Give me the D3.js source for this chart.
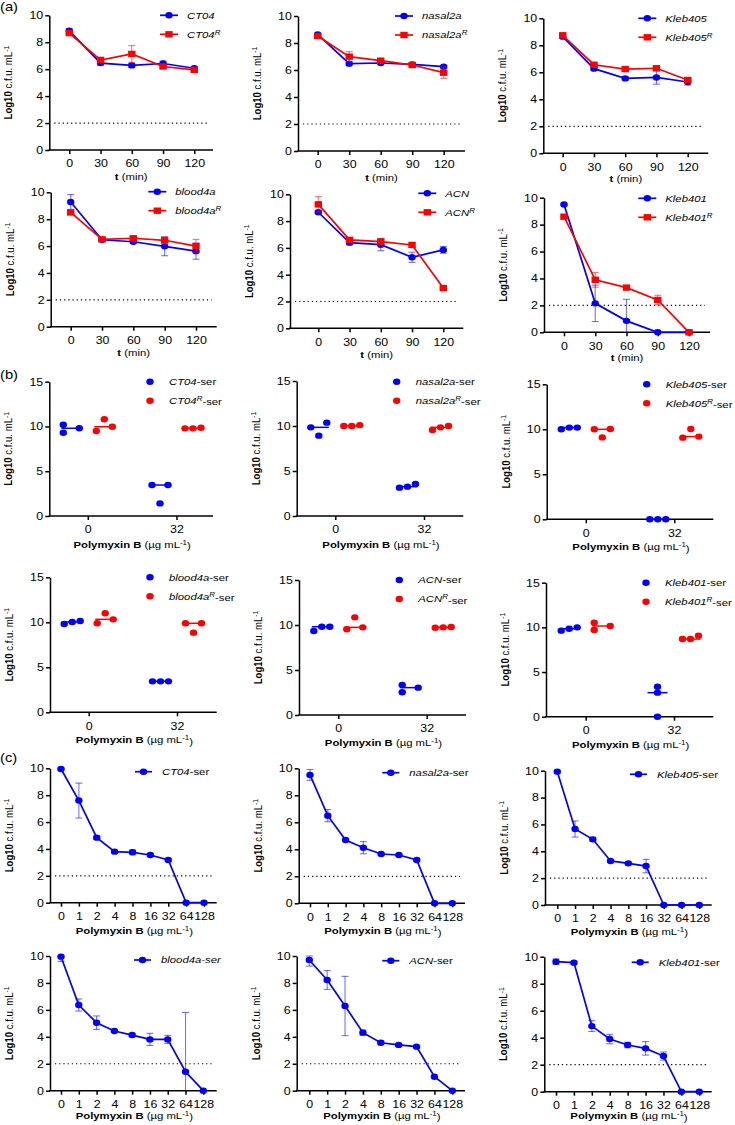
<!DOCTYPE html>
<html>
<head>
<meta charset="utf-8">
<script src="https://cdn.jsdelivr.net/npm/d3@7"></script>
<style>
  body { margin: 0; background: #fff; }
  svg text { font-family: "Liberation Sans", Arial, Helvetica, sans-serif; fill: #000; }
</style>
</head>
<body>
<svg id="fig" width="735" height="1125"></svg>
<script>
// ---- data ----
const strains = ['CT04', 'nasal2a', 'Kleb405', 'blood4a', 'ACN', 'Kleb401'];

// (a) time-kill, log10 cfu/mL
const timePoints = [0, 30, 60, 90, 120];
const killWT = [
  [8.85, 6.45, 6.28, 6.42, 6.07],
  [8.64, 6.47, 6.52, 6.42, 6.25],
  [8.64, 6.27, 5.55, 5.62, 5.28],
  [9.28, 6.47, 6.32, 5.98, 5.62],
  [8.66, 6.39, 6.24, 5.30, 5.85],
  [9.50, 2.15, 0.85, 0, 0]
];
const killWTsd = [
  [0.15, 0.15, 0.15, 0.18, 0.12],
  [0.08, 0.10, 0.12, 0.10, 0.08],
  [0.10, 0.12, 0.12, 0.50, 0.22],
  [0.55, 0.10, 0.10, 0.70, 0.60],
  [0.12, 0.15, 0.45, 0.38, 0.25],
  [0.08, 1.35, 1.60, 0, 0]
];
const killR = [
  [8.68, 6.68, 7.13, 6.20, 5.95],
  [8.52, 6.99, 6.69, 6.37, 5.80],
  [8.74, 6.56, 6.24, 6.30, 5.43],
  [8.50, 6.50, 6.58, 6.43, 6.00],
  [9.25, 6.60, 6.47, 6.22, 3.00],
  [8.59, 3.90, 3.32, 2.40, 0]
];
const killRsd = [
  [0.12, 0.20, 0.62, 0.10, 0.10],
  [0.10, 0.37, 0.12, 0.10, 0.42],
  [0.15, 0.10, 0.12, 0.12, 0.10],
  [0.10, 0.12, 0.12, 0.25, 0.50],
  [0.57, 0.12, 0.20, 0.18, 0.05],
  [0.10, 0.55, 0.10, 0.35, 0]
];

// (b) serum survival, three replicates per group
const serumDoses = ['0', '32'];
const serumWT0 = [[10.2, 9.3, 9.8], [10.37, 8.93, 9.85], [10.0, 10.19, 10.19], [9.81, 10.15, 10.04], [9.33, 9.81, 9.81], [9.63, 10.0, 9.85]];
const serumR0 = [[9.5, 10.8, 9.97], [10.0, 10.1, 10.0], [10.04, 9.1, 10.0], [9.89, 11.0, 10.33], [9.52, 10.85, 9.74], [10.52, 9.7, 10.15]];
const serumWT32 = [[3.46, 1.41, 3.46], [3.15, 3.56, 3.26], [0, 0, 0], [3.44, 3.44, 3.44], [3.33, 2.52, 3.04], [3.36, 2.69, 0]];
const serumR32 = [[9.79, 9.86, 9.79], [9.56, 10.0, 9.85], [9.07, 10.04, 9.19], [9.89, 8.85, 9.89], [9.7, 9.78, 9.74], [8.69, 9.07, 8.69]];

// (c) polymyxin B dose response in serum
const pmbDoses = ['0', '1', '2', '4', '8', '16', '32', '64', '128'];
const doseMean = [
  [9.95, 7.60, 4.84, 3.80, 3.75, 3.55, 3.18, 0, 0],
  [9.51, 6.49, 4.69, 4.12, 3.65, 3.58, 3.21, 0, 0],
  [9.93, 5.66, 4.89, 3.28, 3.10, 2.90, 0, 0, 0],
  [9.95, 6.36, 5.05, 4.43, 4.13, 3.81, 3.81, 1.41, 0],
  [9.70, 8.22, 6.29, 4.31, 3.56, 3.40, 3.27, 1.04, 0],
  [9.63, 9.56, 4.86, 3.90, 3.46, 3.21, 2.64, 0, 0]
];
const doseSd = [
  [0.08, 1.30, 0.12, 0.10, 0.18, 0.10, 0.10, 0, 0],
  [0.40, 0.45, 0.08, 0.45, 0.10, 0.08, 0.08, 0, 0],
  [0.05, 0.60, 0.15, 0.08, 0.10, 0.50, 0, 0, 0],
  [0.35, 0.45, 0.50, 0.08, 0.12, 0.45, 0.30, 4.40, 0],
  [0.45, 0.70, 2.20, 0.20, 0.15, 0.08, 0.08, 0.05, 0],
  [0.20, 0.10, 0.40, 0.35, 0.20, 0.50, 0.30, 0, 0]
];

const yTicksA = [0, 2, 4, 6, 8, 10];
const yTicksB = [0, 5, 10, 15];
const detectionLimit = 2;

// ---- layout (pixel frames measured per panel) ----
// x0/x1: x axis ends, f/l: first/last category, yT/yB: top tick / zero,
// lx/ly: legend, xt: gap from axis to x title baseline
const framesA = [
  {x0: 49.3, x1: 213, f: 69.3, l: 194.3, yT: 15.3, yB: 150, lx: 160, ly: 15.3, xt: 30},
  {x0: 298, x1: 465, f: 317.7, l: 443.7, yT: 16, yB: 151, lx: 395, ly: 16, xt: 30},
  {x0: 543.3, x1: 708.3, f: 562.7, l: 687.7, yT: 18.3, yB: 153.3, lx: 638.3, ly: 18.3, xt: 29},
  {x0: 50.7, x1: 216.7, f: 70.7, l: 196, yT: 192.3, yB: 326.7, lx: 148.3, ly: 191.7, xt: 29.5},
  {x0: 290, x1: 463.3, f: 318.3, l: 443.3, yT: 194.3, yB: 328.3, lx: 418.3, ly: 193.3, xt: 29.5},
  {x0: 544, x1: 710, f: 564, l: 689, yT: 197.7, yB: 332.3, lx: 638.3, ly: 198.3, xt: 29}
];
const framesB = [
  {x0: 49.3, x1: 213, f: 87.8, l: 176.5, yT: 381.7, yB: 516, lx: 150, ly: 381.7, xt: 32},
  {x0: 296.7, x1: 463.3, f: 335.3, l: 424, yT: 381, yB: 516, lx: 396.7, ly: 381.7, xt: 32},
  {x0: 546.7, x1: 713.3, f: 585.8, l: 674.3, yT: 384.3, yB: 519.3, lx: 646.7, ly: 384.3, xt: 31},
  {x0: 50, x1: 216.7, f: 88.7, l: 177, yT: 577.3, yB: 712.3, lx: 150, ly: 577.3, xt: 31},
  {x0: 299, x1: 466, f: 338.3, l: 426.7, yT: 580, yB: 715, lx: 399.3, ly: 580, xt: 31},
  {x0: 546, x1: 713.3, f: 585.7, l: 674, yT: 582.7, yB: 716.7, lx: 646, ly: 582.7, xt: 31}
];
const framesC = [
  {x0: 50, x1: 216.7, f: 61, l: 204, yT: 768.3, yB: 902.7, lx: 135, ly: 771.7, xt: 31},
  {x0: 298.7, x1: 465, f: 310, l: 452.3, yT: 768.3, yB: 903.3, lx: 382.3, ly: 772.7, xt: 31},
  {x0: 545, x1: 711.7, f: 557.3, l: 699.3, yT: 770.7, yB: 905, lx: 630, ly: 774.3, xt: 30},
  {x0: 50, x1: 216.7, f: 61, l: 203.3, yT: 956, yB: 1090.7, lx: 134, ly: 960, xt: 28.3},
  {x0: 296.7, x1: 465, f: 309.3, l: 452.3, yT: 956, yB: 1090.7, lx: 382.3, ly: 960.7, xt: 28.3},
  {x0: 544.3, x1: 711.7, f: 556, l: 699.3, yT: 956.7, yB: 1091.7, lx: 631.7, ly: 962.3, xt: 27.5}
];

const SX = 1.18;          // the figure is stretched horizontally
const BLUE = '#0000ff';
const RED = '#ff0000';
const TICK_FS = 10.5;
const TITLE_FS = 9.6;
const LEG_FS = 9.6;

const svg = d3.select('#fig');

function txt(g, x, y, size, rot) {
  return g.append('text')
    .attr('transform', `translate(${x},${y}) scale(${SX},1)` + (rot ? ` rotate(${rot})` : ''))
    .style('font-size', size + 'px');
}
function sup(t, s, after) {
  t.append('tspan').attr('dy', '-0.45em').style('font-size', '70%').text(s);
  if (after) t.append('tspan').attr('dy', '0.45em').text(after);
}

function axes(g, fr, x, y, yTicks) {
  const ya = g.append('g').attr('transform', `translate(${fr.x0},0)`)
    .call(d3.axisLeft(y).tickValues(yTicks).tickSize(4).tickPadding(1.2).tickSizeOuter(0));
  const xAxis = d3.axisBottom(x).tickSize(4).tickPadding(6).tickSizeOuter(0);
  if (x.ticks) xAxis.tickValues(timePoints);
  const xa = g.append('g').attr('transform', `translate(0,${fr.yB})`).call(xAxis);
  xa.select('.domain').remove();
  xa.append('line').attr('x1', fr.x0 - 0.75).attr('x2', fr.x1).attr('stroke', '#000');
  [ya, xa].forEach(a => {
    a.attr('font-family', null).attr('font-size', null);
    a.selectAll('line, path').attr('stroke', '#000').attr('stroke-width', 1.5);
    a.selectAll('text').style('font-size', TICK_FS + 'px').attr('transform', `scale(${SX},1)`);
  });
  // y title
  const t = txt(g, fr.x0 - 37, (fr.yT + fr.yB) / 2, TITLE_FS, -90).attr('text-anchor', 'middle');
  t.append('tspan').style('font-weight', 'bold').text('Log10');
  t.append('tspan').text(' c.f.u. mL');
  sup(t, '-1');
}

function xTitlePmb(g, fr) {
  const t = txt(g, (fr.x0 + fr.x1) / 2 + 1, fr.yB + fr.xt, TITLE_FS).attr('text-anchor', 'middle');
  t.append('tspan').style('font-weight', 'bold').text('Polymyxin B');
  t.append('tspan').text(' (\u00b5g mL');
  sup(t, '-1', ')');
}

function limitLine(g, fr, y) {
  g.append('line')
    .attr('x1', fr.x0 + 5).attr('x2', fr.x1 - 5)
    .attr('y1', y(detectionLimit)).attr('y2', y(detectionLimit))
    .attr('stroke', '#000').attr('stroke-width', 1.2).attr('stroke-dasharray', '1.2,3');
}

function marker(g, shape, cx, cy, color) {
  if (shape === 'square') {
    g.append('rect').attr('x', cx - 3.7).attr('y', cy - 3.2).attr('width', 7.4).attr('height', 6.4).attr('fill', color);
  } else {
    g.append('ellipse').attr('cx', cx).attr('cy', cy).attr('rx', 3.7).attr('ry', 3.2).attr('fill', color);
  }
}

function series(g, xs, ys, sds, y, color, shape) {
  const top = y.domain()[1];
  const eb = g.append('g').attr('stroke', color).attr('stroke-opacity', 0.55).attr('stroke-width', 1.1);
  ys.forEach((v, i) => {
    if (!sds[i]) return;
    const lo = Math.max(0, v - sds[i]), hi = Math.min(top, v + sds[i]);
    eb.append('line').attr('x1', xs[i]).attr('x2', xs[i]).attr('y1', y(lo)).attr('y2', y(hi));
    [lo, hi].forEach(e => {
      if (e === 0) return;
      eb.append('line').attr('x1', xs[i] - 3.5).attr('x2', xs[i] + 3.5).attr('y1', y(e)).attr('y2', y(e));
    });
  });
  g.append('path')
    .datum(ys.map((v, i) => [xs[i], y(v)]))
    .attr('d', d3.line())
    .attr('fill', 'none').attr('stroke', color).attr('stroke-width', 1.7);
  ys.forEach((v, i) => marker(g, shape, xs[i], y(v), color));
}

function legendName(t, name, resistant, suffix, allItalic) {
  t.append('tspan').style('font-style', 'italic').text(name);
  if (resistant) {
    t.append('tspan').attr('dy', '-0.45em').style('font-size', '70%').style('font-style', 'italic').text('R');
    if (suffix) t.append('tspan').attr('dy', '0.45em').text(suffix);
  } else if (suffix) {
    t.append('tspan').style('font-style', allItalic ? 'italic' : 'normal').text(suffix);
  }
}

// panel letters
[['(a)', 11], ['(b)', 378.5], ['(c)', 762]].forEach(([s, y]) => {
  txt(svg, 0, y, 12.5).text(s);
});

// ---- (a) ----
framesA.forEach((fr, k) => {
  const g = svg.append('g');
  const x = d3.scaleLinear().domain([0, 120]).range([fr.f, fr.l]);
  const y = d3.scaleLinear().domain([0, 10]).range([fr.yB, fr.yT]);
  axes(g, fr, x, y, yTicksA);
  limitLine(g, fr, y);
  const tt = txt(g, (fr.x0 + fr.x1) / 2, fr.yB + fr.xt, TITLE_FS).attr('text-anchor', 'middle');
  tt.append('tspan').style('font-weight', 'bold').text('t');
  tt.append('tspan').text(' (min)');

  const xs = timePoints.map(x);
  series(g, xs, killWT[k], killWTsd[k], y, BLUE, 'circle');
  series(g, xs, killR[k], killRsd[k], y, RED, 'square');

  [[BLUE, 'circle', false], [RED, 'square', true]].forEach(([c, shape, res], j) => {
    const ly = fr.ly + j * 19;
    g.append('line').attr('x1', fr.lx).attr('x2', fr.lx + 18).attr('y1', ly).attr('y2', ly)
      .attr('stroke', c).attr('stroke-width', 1.7);
    marker(g, shape, fr.lx + 9, ly, c);
    legendName(txt(g, fr.lx + 27, ly, LEG_FS).attr('dy', '0.35em'), strains[k], res, '', false);
  });
});

// ---- (b) ----
function swarm(vals, y, d) {
  const s = vals.map(v => ({v: v, py: y(v)})).sort((a, b) => a.v - b.v);
  const runs = [];
  s.forEach((p, i) => {
    if (i && Math.abs(p.py - s[i - 1].py) < d) runs[runs.length - 1].push(p);
    else runs.push([p]);
  });
  runs.forEach(r => {
    if (r.length === 1) r[0].dx = 0;
    else if (r.length === 2) { r[0].dx = -1; r[1].dx = 1; }
    else if (Math.abs(r[0].py - r[r.length - 1].py) < d) r.forEach((p, i) => p.dx = i - (r.length - 1) / 2);
    else r.forEach((p, i) => p.dx = i % 2 ? 1 : -1);
  });
  return s;
}

framesB.forEach((fr, k) => {
  const g = svg.append('g');
  const x = d3.scalePoint().domain(serumDoses).range([fr.f, fr.l]);
  const y = d3.scaleLinear().domain([0, 15]).range([fr.yB, fr.yT]);
  axes(g, fr, x, y, yTicksB);
  xTitlePmb(g, fr);

  const groups = [
    [serumWT0[k], '0', -16.5, BLUE], [serumR0[k], '0', 16.5, RED],
    [serumWT32[k], '32', -16.5, BLUE], [serumR32[k], '32', 16.5, RED]
  ];
  groups.forEach(([vals, dose, off, c]) => {
    const cx = x(dose) + off;
    g.append('line').attr('x1', cx - 10).attr('x2', cx + 10)
      .attr('y1', y(d3.median(vals))).attr('y2', y(d3.median(vals)))
      .attr('stroke', c).attr('stroke-width', 1.5);
    swarm(vals, y, 5.5).forEach(p => marker(g, 'circle', cx + p.dx * 8, p.py, c));
  });

  [[BLUE, false], [RED, true]].forEach(([c, res], j) => {
    const ly = fr.ly + j * 19;
    marker(g, 'circle', fr.lx, ly, c);
    legendName(txt(g, fr.lx + 19, ly, LEG_FS).attr('dy', '0.35em'), strains[k], res, '-ser', false);
  });
});

// ---- (c) ----
framesC.forEach((fr, k) => {
  const g = svg.append('g');
  const x = d3.scalePoint().domain(pmbDoses).range([fr.f, fr.l]);
  const y = d3.scaleLinear().domain([0, 10]).range([fr.yB, fr.yT]);
  axes(g, fr, x, y, yTicksA);
  xTitlePmb(g, fr);
  limitLine(g, fr, y);
  series(g, pmbDoses.map(x), doseMean[k], doseSd[k], y, BLUE, 'circle');

  g.append('line').attr('x1', fr.lx).attr('x2', fr.lx + 17).attr('y1', fr.ly).attr('y2', fr.ly)
    .attr('stroke', BLUE).attr('stroke-width', 1.7);
  marker(g, 'circle', fr.lx + 8.5, fr.ly, BLUE);
  legendName(txt(g, fr.lx + 27, fr.ly, LEG_FS).attr('dy', '0.35em'), strains[k], false, '-ser', strains[k] === 'blood4a');
});
</script>
</body>
</html>
